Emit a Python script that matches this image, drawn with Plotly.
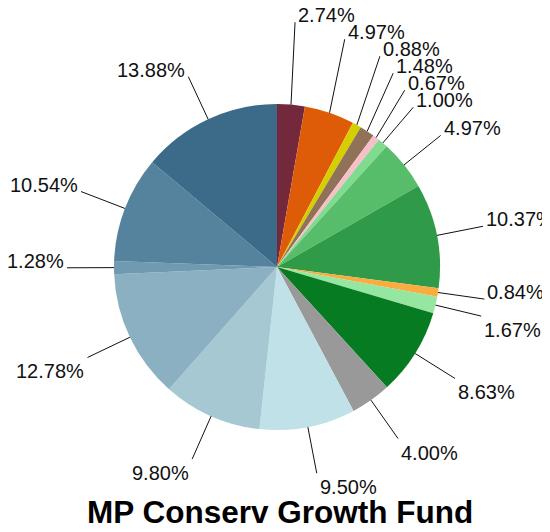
import math
import plotly.graph_objects as go

# ---- data ----
labels = ["S1", "S2", "S3", "S4", "S5", "S6", "S7", "S8", "S9", "S10",
          "S11", "S12", "S13", "S14", "S15", "S16", "S17", "S18"]
values = [2.74, 4.97, 0.88, 1.48, 0.67, 1.00, 4.97, 10.37, 0.84, 1.67,
          8.63, 4.00, 9.50, 9.80, 12.78, 1.28, 10.54, 13.88]
colors = ["#74283C", "#DE5B07", "#D6CF00", "#8F7258", "#F9BFC8", "#7FDB8F",
          "#58BD6A", "#2F9A47", "#FAAC40", "#94E6A0", "#077B22", "#999999",
          "#C0E1E8", "#A6C8D3", "#8BB0C2", "#6F9AB1", "#55829C", "#3C6A89"]
title_text = "MP Conserv Growth Fund"

# ---- layout geometry (window pixels) ----
OFF = 8                      # page body margin
WIN_W, WIN_H = 550, 532
W, H = WIN_W - OFF, WIN_H - OFF
CX, CY, R = 277, 267, 163
LABEL_R = 210
SPACING = 17
FONT = "Liberation Sans, Arial, sans-serif"


def px(x):
    return (x - OFF) / W


def py(y):
    return 1 - (y - OFF) / H


fig = go.Figure(go.Pie(
    labels=labels, values=values, sort=False, direction="clockwise",
    rotation=0, marker=dict(colors=colors, line=dict(width=0)),
    textinfo="none", hoverinfo="label+percent", showlegend=False,
    domain=dict(x=[px(CX - R), px(CX + R)],
                y=[py(CY + R), py(CY - R)]),
))

total = sum(values)
items = []
cum = 0.0
for v in values:
    mid = (cum + v / 2) / total * 360.0
    cum += v
    th = math.radians(mid)
    ex, ey = CX + R * math.sin(th), CY - R * math.cos(th)
    lx, ly = CX + LABEL_R * math.sin(th), CY - LABEL_R * math.cos(th)
    items.append(dict(v=v, mid=mid, ex=ex, ey=ey, lx=lx, ly=ly))

# resolve overlaps: push labels upward on each side, bottom to top
for side in (True, False):
    grp = [it for it in items if (it["lx"] >= CX) == side]
    grp.sort(key=lambda it: -it["ly"])
    prev = None
    for it in grp:
        if prev is not None:
            it["ly"] = min(it["ly"], prev - SPACING)
        prev = it["ly"]

shapes = []
annotations = []
for it in items:
    shapes.append(dict(type="line", xref="paper", yref="paper",
                       x0=px(it["ex"]), y0=py(it["ey"]),
                       x1=px(it["lx"]), y1=py(it["ly"]),
                       line=dict(color="#111111", width=1)))
    right = it["lx"] >= CX
    dist_top = min(it["mid"], 360 - it["mid"])
    bottom = dist_top < 100
    annotations.append(dict(
        x=px(it["lx"]), y=py(it["ly"]), xref="paper", yref="paper",
        text=f"{it['v']:.2f}%", showarrow=False,
        xanchor="left" if right else "right",
        yanchor="bottom" if bottom else "top",
        xshift=1 if right else -1,
        yshift=-6 if bottom else -1,
        font=dict(family=FONT, size=20, color="#111111"),
    ))

annotations.append(dict(
    x=px(280), y=py(512), xref="paper", yref="paper",
    text=f"<b>{title_text}</b>", showarrow=False,
    xanchor="center", yanchor="middle",
    font=dict(family=FONT, size=31.5, color="#000000"),
))

fig.update_layout(
    width=W, height=H, margin=dict(l=0, r=0, t=0, b=0),
    paper_bgcolor="white", plot_bgcolor="white",
    shapes=shapes, annotations=annotations,
)

fig.write_html("out.html")
